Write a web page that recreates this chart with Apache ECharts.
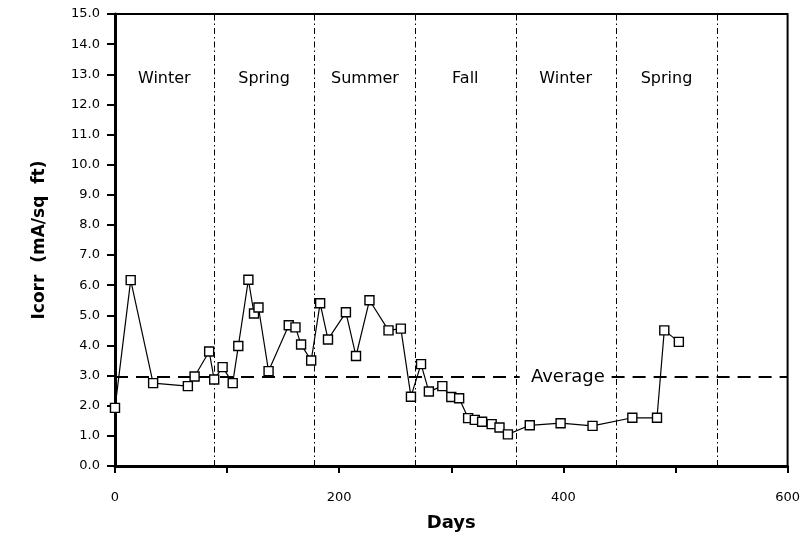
<!DOCTYPE html>
<html>
<head>
<meta charset="utf-8">
<script src="https://cdn.jsdelivr.net/npm/echarts@6/dist/echarts.min.js"></script>
<style>
  html, body { margin: 0; padding: 0; background: #fff; }
  #chart { width: 803px; height: 537px; }
</style>
</head>
<body>
<div id="chart"></div>
<script>
// Corrosion current readings over time
const days = [0, 14, 34, 65, 71, 84, 88.5, 96, 105, 110, 119, 124, 128, 137, 155, 161, 166, 175,
  183, 190, 206, 215, 227, 244, 255, 264, 273, 280, 292, 300, 307, 315, 321, 327.5, 336, 343, 350.5,
  370, 397.5, 426, 461.5, 483.5, 490, 503];
const icorr = [1.93, 6.17, 2.75, 2.65, 2.97, 3.8, 2.87, 3.28, 2.75, 3.98, 6.18, 5.06, 5.26, 3.15, 4.67, 4.6, 4.03, 3.5,
  5.4, 4.2, 5.1, 3.65, 5.5, 4.5, 4.56, 2.3, 3.38, 2.47, 2.65, 2.29, 2.25, 1.59, 1.53, 1.47, 1.39, 1.28, 1.05,
  1.35, 1.42, 1.33, 1.6, 1.6, 4.5, 4.12];

// Season boundaries (days) and labels
const seasonBounds = [88.5, 178, 267.5, 357.5, 447, 537.5];
const seasonNames = ['Winter', 'Spring', 'Summer', 'Fall', 'Winter', 'Spring'];
const seasonLabelDays = [44, 133, 223, 312.5, 402, 492];
const seasonLabelY = 12.85;

// Average level; the dashed line breaks around its label
const averageValue = 2.95;
const averageLabelDay = 404;
const averageSegments = [[0, 361], [443, 600]];

const xTickLabels = ['0', '200', '400', '600'];

const font = '"DejaVu Sans", "Liberation Sans", sans-serif';

const chart = echarts.init(document.getElementById('chart'), null, { renderer: 'canvas' });

const plainLabel = (size) => ({
  show: true, position: 'inside', formatter: p => p.name,
  fontSize: size, color: '#000', fontFamily: font,
  textBorderWidth: 0, opacity: 1
});

const option = {
  backgroundColor: '#fff',
  animation: false,
  textStyle: { fontFamily: font, color: '#000' },
  grid: {
    left: 115, right: 15, top: 14, bottom: 64,
    show: true, borderColor: '#000', borderWidth: 2, backgroundColor: 'transparent'
  },
  xAxis: {
    type: 'value', min: 0, max: 600, interval: 100,
    name: 'Days', nameLocation: 'middle', nameGap: 48,
    nameTextStyle: { fontSize: 18, fontWeight: 'bold', color: '#000', fontFamily: font },
    axisLine: { show: true, onZero: false, lineStyle: { color: '#000', width: 3 } },
    axisTick: { show: true, inside: false, length: 7, lineStyle: { color: '#000', width: 2 } },
    axisLabel: {
      margin: 25, fontSize: 13, color: '#000', fontFamily: font,
      formatter: v => xTickLabels.includes(String(v)) ? String(v) : ''
    },
    splitLine: { show: false }
  },
  yAxis: {
    type: 'value', min: 0, max: 15, interval: 1,
    name: 'Icorr  (mA/sq  ft)', nameLocation: 'middle', nameGap: 67, nameRotate: 90,
    nameTextStyle: { fontSize: 17, fontWeight: 'bold', color: '#000', fontFamily: font },
    axisLine: { show: true, onZero: false, lineStyle: { color: '#000', width: 3 } },
    axisTick: { show: true, inside: false, length: 8, lineStyle: { color: '#000', width: 2 } },
    axisLabel: {
      margin: 15, fontSize: 13, color: '#000', fontFamily: font,
      formatter: v => v.toFixed(1)
    },
    splitLine: { show: false }
  },
  series: [
    {
      // season dividers and average reference line
      type: 'line', data: [], silent: true,
      markLine: {
        symbol: ['none', 'none'], silent: true, animation: false,
        label: { show: false },
        data: seasonBounds.map(d => ({
          xAxis: d,
          lineStyle: { color: '#000', width: 1, type: [6, 3, 1.5, 3] }
        })).concat(averageSegments.map(s => [
          { coord: [s[0], averageValue], lineStyle: { color: '#000', width: 2, type: [13, 8] } },
          { coord: [s[1], averageValue] }
        ]))
      }
    },
    {
      name: 'Icorr', type: 'line', z: 5,
      data: days.map((d, i) => [d, icorr[i]]),
      symbol: 'rect', symbolSize: 9, showSymbol: true,
      lineStyle: { color: '#000', width: 1.2 },
      itemStyle: { color: '#fff', borderColor: '#000', borderWidth: 1.4 }
    },
    {
      // season names
      type: 'scatter', symbolSize: 0, silent: true, z: 4,
      itemStyle: { color: '#000' },
      data: seasonLabelDays.map((d, i) => ({ value: [d, seasonLabelY], name: seasonNames[i] })),
      label: plainLabel(16)
    },
    {
      // average label
      type: 'scatter', symbolSize: 0, silent: true, z: 6,
      itemStyle: { color: '#000' },
      data: [{ value: [averageLabelDay, averageValue], name: 'Average' }],
      label: plainLabel(18)
    }
  ]
};

chart.setOption(option);
</script>
</body>
</html>
